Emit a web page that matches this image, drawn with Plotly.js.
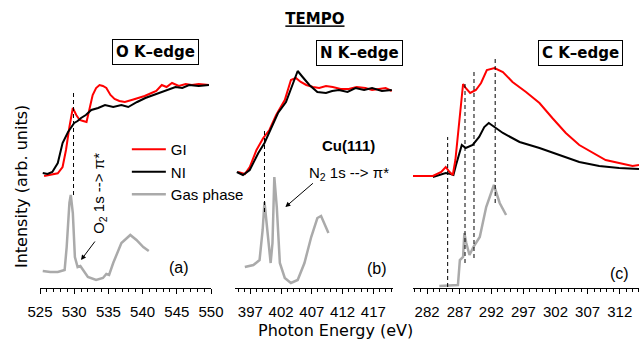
<!DOCTYPE html>
<html>
<head>
<meta charset="utf-8">
<script src="https://cdn.plot.ly/plotly-3.0.1.min.js"></script>
<style>html,body{margin:0;padding:0;background:#fff}#chart{width:639px;height:342px}</style>
</head>
<body>
<div id="chart"></div>
<script>
// ---- Panel (a): O K-edge ----
var aE_GI = [525.6,526.6,527.6,528.3,528.8,529.3,529.8,530.3,530.8,531.3,531.8,532.3,532.7,533.2,533.7,534.2,534.7,535.3,535.9,536.6,537.4,538.4,539.4,540.3,541.3,542.0,542.8,543.5,544.3,545.3,546.3,547.2,548.2,549.7];
var aI_GI = [112,113,114.7,121,138,161,180,173,168,167,166,181,193,200,203,202,200,193,189,187,186,188,190,192,195,197,203,201,205,202,204,203,204,203];
var aE_NI = [525.4,526.1,526.8,527.6,528.3,529.1,530.0,530.5,531.0,531.7,532.5,533.5,534.5,535.7,536.9,537.9,539.2,540.4,541.6,542.8,543.8,544.8,545.8,546.8,548.2,549.7];
var aI_NI = [115,114,116,125,145,156,165,167,170,173,178,180,183,181,183,181,186,190,193,196,198,201,200,203,202,203];
var aE_gas = [525.4,526.5,527.6,528.6,528.9,529.3,529.5,529.8,530.1,530.5,530.9,531.3,532.0,533.2,534.2,534.7,535.1,535.7,536.9,538.2,539.1,540.1,540.9];
var aI_gas = [17,16,16,18,41,85,93,75,31,21,22,18,11,8,10,14,13,25,45,53,48,41,37];

// ---- Panel (b): N K-edge ----
var bE_GI = [395.0,396.1,396.9,398.0,399.1,400.1,401.2,402.6,403.6,404.4,405.2,406.1,407.2,408.2,409.3,410.4,411.7,413.0,414.3,415.7,416.8,417.9,419.0,420.0];
var bI_GI = [116,114,121,138,150,158,173,188,208,210,206,203,201,200,202,201,199,199,201,200,198,199,200,197];
var bE_NI = [394.8,395.8,396.9,398.3,399.3,400.4,401.5,402.8,404.2,404.7,405.5,406.6,407.9,409.3,410.3,411.4,412.8,414.1,415.5,416.8,418.4,420.0];
var bI_NI = [116,113,118,135,145,160,175,186,208,217,211,203,196,195,197,198,196,200,198,200,197,198];
var bE_gas = [396.1,397.5,398.5,399.0,399.3,399.8,400.3,400.6,400.9,401.3,401.8,402.6,403.6,404.7,405.8,406.9,407.9,408.5,409.3,409.7];
var bI_gas = [21,23,28,58,86,58,25,45,111,81,25,10,5,8,25,51,70,72,61,55];

// ---- Panel (c): C K-edge ----
var cE_GI = [279.7,282.9,284.2,284.9,285.5,286.0,286.4,286.8,287.3,287.6,288.0,288.7,289.6,290.4,291.3,292.5,293.8,295.3,297.4,299.5,301.5,303.6,305.7,307.8,309.8,311.9,314.0,315.0];
var cI_GI = [112,112,116,121,116,113,128,155,191,204,200,195,198,205,218,220,216,206,196,185,170,155,143,135,128,125,122,123];
var cE_NI = [282.9,284.2,284.9,285.7,286.1,286.5,287.0,287.4,288.0,289.1,290.1,290.9,291.6,292.5,293.8,296.4,299.5,302.6,305.7,308.8,311.9,315.0];
var cI_NI = [111,114,115,114,113,123,133,143,140,143,151,161,165,161,155,146,140,133,126,122,120,119];
var cE_gas = [283.9,286.8,287.1,287.6,287.8,288.1,288.6,289.2,290.2,291.2,292.4,293.3,294.3];
var cI_gas = [2,3,28,31,55,45,33,41,51,81,103,85,73];

// ---- Dashed marker lines: energy, top, bottom ----
var dashE   = [529.9, 399.3, 285.2, 287.9, 289.3, 292.6];
var dashTop = [196, 158, 151, 206, 219, 231];
var dashBot = [93, 76, 1, 25, 30, 85];
var dashAxis = ['x', 'x2', 'x3', 'x3', 'x3', 'x3'];

// ---- Tick settings ----
var tickStart = [525, 397, 282];
var xRanges = [[525, 550], [394.5, 420.2], [279.8, 315]];

var RED = '#ff0000', BLACK = '#000000', GRAY = '#aaaaaa';
var traces = [];
function addSeries(E, I, axis, name, color, width, show) {
  traces.push({x: E, y: I, xaxis: axis, yaxis: 'y', type: 'scatter', mode: 'lines',
    name: name, legendgroup: name, showlegend: show,
    line: {color: color, width: width}, hoverinfo: 'skip'});
}
addSeries(aE_GI, aI_GI, 'x', 'GI', RED, 2, true);
addSeries(aE_NI, aI_NI, 'x', 'NI', BLACK, 2, true);
addSeries(aE_gas, aI_gas, 'x', 'Gas phase', GRAY, 2.5, true);
addSeries(bE_GI, bI_GI, 'x2', 'GI', RED, 2, false);
addSeries(bE_NI, bI_NI, 'x2', 'NI', BLACK, 2, false);
addSeries(bE_gas, bI_gas, 'x2', 'Gas phase', GRAY, 2.5, false);
addSeries(cE_gas, cI_gas, 'x3', 'Gas phase', GRAY, 2.5, false);
addSeries(cE_NI, cI_NI, 'x3', 'NI', BLACK, 2, false);
addSeries(cE_GI, cI_GI, 'x3', 'GI', RED, 2, false);

for (var i = 0; i < dashE.length; i++) {
  traces.push({x: [dashE[i], dashE[i]], y: [dashBot[i], dashTop[i]], xaxis: dashAxis[i], yaxis: 'y',
    type: 'scatter', mode: 'lines', showlegend: false, hoverinfo: 'skip',
    line: {color: BLACK, width: 1, dash: '4px,3px'}});
}

var tickFont = {family: 'Liberation Sans, Arial, sans-serif', size: 15, color: '#000'};
function xax(domain, k) {
  return {domain: domain, range: xRanges[k], anchor: 'y', showline: true, linecolor: '#000', linewidth: 1,
    ticks: 'outside', ticklen: 5, tickwidth: 1, tickcolor: '#000', tick0: tickStart[k], dtick: 5,
    ticklabelstandoff: 5,
    minor: {ticks: 'outside', ticklen: 3, dtick: 1, tick0: tickStart[k], tickcolor: '#000', tickwidth: 1},
    showgrid: false, zeroline: false, tickfont: tickFont, fixedrange: true};
}

var boxFont = {family: 'DejaVu Sans, sans-serif', size: 15, color: '#000'};
var txtFont = {family: 'Liberation Sans, Arial, sans-serif', size: 15, color: '#000'};
var lblFont = {family: 'Liberation Sans, Arial, sans-serif', size: 16, color: '#000'};
function boxAnn(x, y, t) {
  return {xref: 'paper', yref: 'paper', x: x, y: y, xanchor: 'center', yanchor: 'middle', text: '<b>' + t + '</b>',
    showarrow: false, font: boxFont, bordercolor: '#000', borderwidth: 1, borderpad: 3};
}
var annotations = [
  boxAnn(0.192, 0.944, 'O K\u2013edge'),
  boxAnn(0.5326, 0.94, 'N K\u2013edge'),
  boxAnn(0.903, 0.942, 'C K\u2013edge'),
  {xref: 'x', yref: 'y', x: 533.6, y: 95, xanchor: 'center', yanchor: 'middle', text: 'O<sub>2</sub> 1s --> \u03c0*', textangle: -90, showarrow: false, font: txtFont},
  {xref: 'x', yref: 'y', x: 531.0, y: 28, ax: 15, ay: -20, text: '', showarrow: true, arrowhead: 2, arrowsize: 1, arrowwidth: 1, arrowcolor: '#000'},
  {xref: 'x2', yref: 'y', x: 413.0, y: 143, xanchor: 'center', yanchor: 'middle', text: '<b>Cu(111)</b>', showarrow: false, font: txtFont},
  {xref: 'x2', yref: 'y', x: 413.0, y: 115, xanchor: 'center', yanchor: 'middle', text: 'N<sub>2</sub> 1s --> \u03c0*', showarrow: false, font: txtFont},
  {xref: 'x2', yref: 'y', x: 402.7, y: 81, ax: 29, ay: -25, text: '', showarrow: true, arrowhead: 2, arrowsize: 1, arrowwidth: 1, arrowcolor: '#000'},
  {xref: 'x', yref: 'y', x: 545.3, y: 21, xanchor: 'center', yanchor: 'middle', text: '(a)', showarrow: false, font: lblFont},
  {xref: 'x2', yref: 'y', x: 417.6, y: 20, xanchor: 'center', yanchor: 'middle', text: '(b)', showarrow: false, font: lblFont},
  {xref: 'x3', yref: 'y', x: 312.0, y: 15, xanchor: 'center', yanchor: 'middle', text: '(c)', showarrow: false, font: lblFont},
  {xref: 'paper', yref: 'paper', x: 0.493, y: -0.168, xanchor: 'center', yanchor: 'middle', text: 'Photon Energy (eV)', showarrow: false, font: {family: 'DejaVu Sans, sans-serif', size: 16, color: '#000'}},
  {xref: 'paper', yref: 'paper', x: -0.0317, y: 0.404, xanchor: 'center', yanchor: 'middle', text: 'Intensity (arb. units)', textangle: -90, showarrow: false, font: {family: 'DejaVu Sans, sans-serif', size: 16, color: '#000'}}
];

var layout = {
  width: 639, height: 342,
  margin: {l: 40, r: 0, t: 38, b: 54},
  paper_bgcolor: '#fff', plot_bgcolor: '#fff',
  title: {text: '<b><u>TEMPO</u></b>', x: 0.459, xref: 'paper', y: 0.944, yanchor: 'middle', xanchor: 'center',
    font: {family: 'DejaVu Sans, sans-serif', size: 15, color: '#000'}},
  xaxis: xax([0, 0.2855], 0),
  xaxis2: xax([0.3255, 0.5893], 1),
  xaxis3: xax([0.6227, 1], 2),
  yaxis: {domain: [0, 1], range: [0, 250], visible: false, fixedrange: true},
  showlegend: true,
  legend: {x: 0.145, y: 0.62, xanchor: 'left', yanchor: 'top', bgcolor: 'rgba(0,0,0,0)', itemwidth: 34,
    font: {family: 'Liberation Sans, Arial, sans-serif', size: 15, color: '#000'}, traceorder: 'normal'},
  annotations: annotations
};

Plotly.newPlot('chart', traces, layout, {displayModeBar: false, staticPlot: true});
</script>
</body>
</html>
